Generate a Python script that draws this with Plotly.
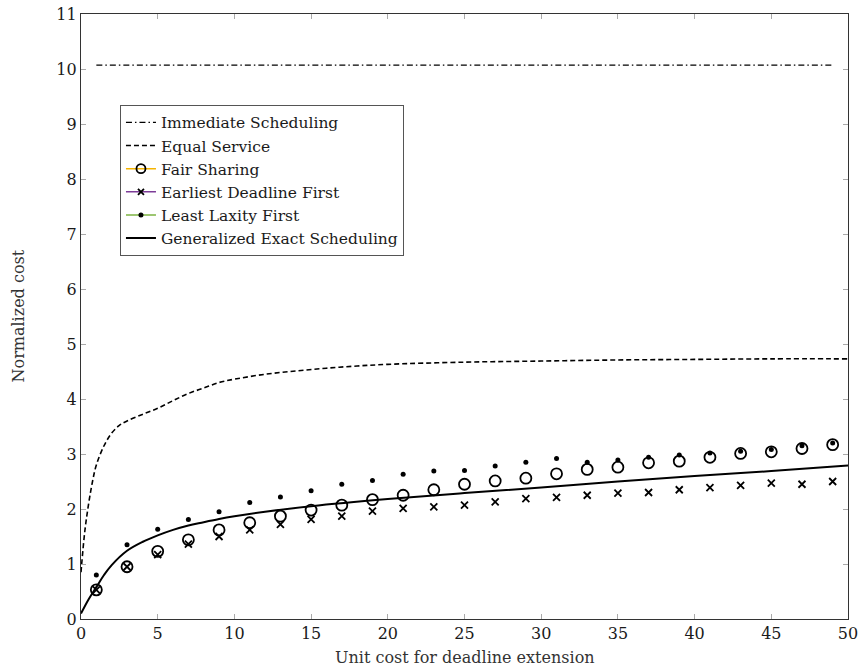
import plotly.graph_objects as go

# ---------------- data ----------------
marker_x = list(range(1, 50, 2))

immediate_y = [10.07] * len(marker_x)

equal_x = [0, 0.25, 0.5, 0.75, 1, 1.5, 2, 2.5, 3, 4, 5, 6, 7, 8, 9, 10, 12, 14, 16, 18, 20, 25, 30, 35, 40, 45, 50]
equal_y = [0.85, 1.6, 2.1, 2.5, 2.8, 3.15, 3.38, 3.52, 3.6, 3.72, 3.83, 3.97, 4.1, 4.2, 4.3, 4.36, 4.45, 4.51, 4.56, 4.6, 4.63, 4.67, 4.69, 4.71, 4.72, 4.73, 4.73]

fair_y = [0.53, 0.95, 1.23, 1.44, 1.62, 1.75, 1.87, 1.98, 2.07, 2.17, 2.25, 2.35, 2.45,
          2.51, 2.56, 2.64, 2.72, 2.76, 2.84, 2.87, 2.94, 3.01, 3.04, 3.10, 3.17]
edf_y = [0.53, 0.95, 1.17, 1.36, 1.50, 1.62, 1.72, 1.81, 1.87, 1.96, 2.01, 2.04, 2.07,
         2.13, 2.19, 2.21, 2.25, 2.29, 2.30, 2.35, 2.39, 2.43, 2.47, 2.45, 2.50]
llf_y = [0.80, 1.35, 1.63, 1.81, 1.95, 2.12, 2.22, 2.33, 2.45, 2.52, 2.63, 2.69, 2.70,
         2.78, 2.85, 2.92, 2.85, 2.89, 2.94, 2.98, 3.02, 3.05, 3.08, 3.15, 3.20]

ges_x = [0, 0.5, 1, 1.5, 2, 3, 4, 5, 6, 7, 8, 9, 10, 12, 15, 20, 25, 30, 35, 40, 45, 50]
ges_y = [0.1, 0.36, 0.58, 0.8, 0.98, 1.24, 1.4, 1.52, 1.62, 1.7, 1.76, 1.82, 1.87, 1.95, 2.05, 2.18, 2.29, 2.39, 2.5, 2.6, 2.69, 2.79]

x_ticks = [0, 5, 10, 15, 20, 25, 30, 35, 40, 45, 50]
y_ticks = list(range(0, 12))

FONT = "DejaVu Serif, Liberation Serif, serif"
TEXT = "#1a1a1a"

fig = go.Figure()

# Immediate Scheduling
fig.add_trace(go.Scatter(x=marker_x, y=immediate_y, mode="lines", name="Immediate Scheduling",
                         line=dict(color="black", width=1.3, dash="6px,3px,1.5px,3px")))
# Equal Service
fig.add_trace(go.Scatter(x=equal_x, y=equal_y, mode="lines", name="Equal Service", line_shape="spline",
                         line=dict(color="black", width=1.6, dash="5px,3px")))
# Fair Sharing
fig.add_trace(go.Scatter(x=marker_x, y=fair_y, mode="markers", showlegend=False,
                         marker=dict(symbol="circle-open", size=11, color="black", line=dict(width=1.8))))
fig.add_trace(go.Scatter(x=[None], y=[None], mode="lines+markers", name="Fair Sharing",
                         line=dict(color="#f5b400", width=1.5),
                         marker=dict(symbol="circle-open", size=9, color="black", line=dict(width=1.8))))
# Earliest Deadline First
fig.add_trace(go.Scatter(x=marker_x, y=edf_y, mode="markers", showlegend=False,
                         marker=dict(symbol="x-thin", size=7, color="black", line=dict(width=1.8, color="black"))))
fig.add_trace(go.Scatter(x=[None], y=[None], mode="lines+markers", name="Earliest Deadline First",
                         line=dict(color="#7d3c98", width=1.5),
                         marker=dict(symbol="x-thin", size=6, color="black", line=dict(width=1.8, color="black"))))
# Least Laxity First
fig.add_trace(go.Scatter(x=marker_x, y=llf_y, mode="markers", showlegend=False,
                         marker=dict(symbol="circle", size=5, color="black")))
fig.add_trace(go.Scatter(x=[None], y=[None], mode="lines+markers", name="Least Laxity First",
                         line=dict(color="#7cb342", width=1.5),
                         marker=dict(symbol="circle", size=5, color="black")))
# Generalized Exact Scheduling
fig.add_trace(go.Scatter(x=ges_x, y=ges_y, mode="lines", name="Generalized Exact Scheduling", line_shape="spline",
                         line=dict(color="black", width=2)))

axis_common = dict(showgrid=False, zeroline=False, showline=True, linecolor="#333333", linewidth=1.2,
                   mirror="ticks", ticks="inside", ticklen=5, tickcolor="#aaaaaa", tickwidth=1,
                   automargin=False, tickfont=dict(family=FONT, size=16, color=TEXT))

fig.update_xaxes(range=[0, 50], tickvals=x_ticks, ticktext=[str(v) for v in x_ticks], **axis_common)
fig.update_yaxes(range=[0, 11], tickvals=y_ticks, ticktext=[str(v) for v in y_ticks], **axis_common)

fig.update_layout(
    width=860, height=672,
    margin=dict(l=81, r=12, t=14, b=53),
    plot_bgcolor="white", paper_bgcolor="white",
    font=dict(family=FONT, size=16, color=TEXT),
    legend=dict(x=0.0508, y=0.85, xanchor="left", yanchor="top",
                bgcolor="white", bordercolor="#555555", borderwidth=1,
                font=dict(family=FONT, size=15.5, color=TEXT),
                tracegroupgap=0, itemwidth=30),
    annotations=[
        dict(text="Unit cost for deadline extension", xref="paper", yref="paper", x=0.5, y=0,
             xanchor="center", yanchor="middle", yshift=-38, showarrow=False,
             font=dict(family=FONT, size=16, color="#333333")),
        dict(text="Normalized cost", xref="paper", yref="paper", x=0, y=0.5,
             xanchor="center", yanchor="middle", xshift=-63, textangle=-90, showarrow=False,
             font=dict(family=FONT, size=16, color="#333333")),
    ],
)

fig.write_html("out.html", config={"displayModeBar": False},
               post_script="document.body.style.margin='0px';")
